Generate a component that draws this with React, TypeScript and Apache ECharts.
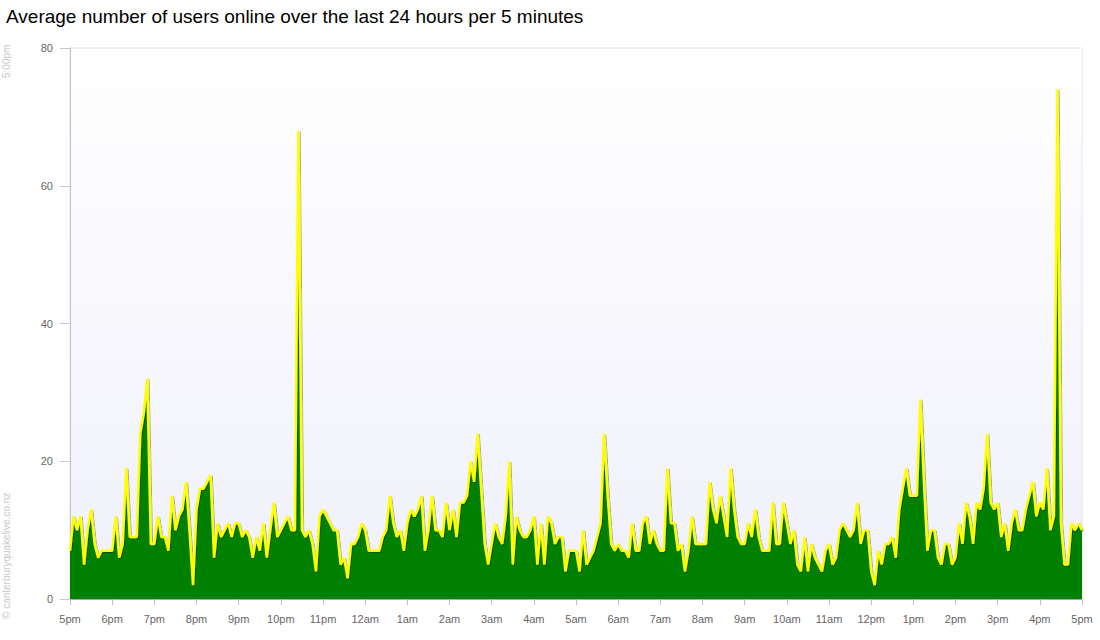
import { useEffect, useRef } from 'react';
import * as echarts from 'echarts';

// hour labels along the bottom, one per 60 minutes
const hourLabels = [
    '5pm', '6pm', '7pm', '8pm', '9pm', '10pm', '11pm', '12am', '1am', '2am', '3am', '4am',
    '5am', '6am', '7am', '8am', '9am', '10am', '11am', '12pm', '1pm', '2pm', '3pm', '4pm', '5pm'
];

const yTicks = [0, 20, 40, 60, 80];

// users online, one value per 5 minutes, starting at 5pm
const users5to9pm = [
    7, 12, 10, 12, 5, 10, 13, 8, 6, 7, 7, 7, 7, 12, 6, 8, 19, 9, 9, 9, 24, 27, 32, 8,
    8, 12, 9, 9, 7, 15, 10, 12, 13, 17, 10, 2, 13, 16, 16, 17, 18, 6, 11, 9, 10, 11, 9, 11
];
const users9pmTo1am = [
    11, 9, 10, 9, 6, 9, 7, 11, 6, 10, 14, 9, 10, 11, 12, 10, 10, 68, 10, 9, 10, 8, 4, 12,
    13, 12, 11, 10, 10, 5, 6, 3, 8, 8, 9, 11, 10, 7, 7, 7, 7, 9, 10, 15, 11, 9, 10, 7
];
const users1to5am = [
    11, 13, 12, 13, 15, 7, 10, 15, 10, 10, 9, 14, 10, 13, 9, 14, 14, 15, 20, 17, 24, 16, 8, 5,
    8, 11, 9, 8, 12, 20, 5, 12, 10, 9, 9, 10, 12, 5, 11, 5, 12, 11, 8, 9, 9, 4, 7, 7
];
const users5to9am = [
    7, 4, 10, 5, 6, 7, 9, 11, 24, 15, 8, 7, 8, 7, 7, 6, 11, 7, 7, 11, 12, 8, 10, 8,
    7, 7, 19, 11, 11, 7, 8, 4, 7, 12, 8, 8, 8, 8, 17, 13, 11, 15, 12, 9, 19, 13, 9, 8
];
const users9amTo1pm = [
    8, 11, 9, 13, 9, 7, 7, 7, 14, 8, 8, 14, 11, 8, 10, 5, 4, 9, 4, 8, 6, 5, 4, 7,
    8, 5, 6, 10, 11, 10, 9, 10, 14, 8, 10, 10, 4, 2, 7, 5, 8, 8, 9, 6, 13, 16, 19, 15
];
const users1to5pm = [
    15, 15, 29, 17, 7, 10, 10, 6, 5, 8, 8, 5, 6, 11, 8, 14, 12, 8, 14, 13, 16, 24, 14, 13,
    14, 9, 11, 7, 11, 13, 10, 10, 13, 15, 17, 12, 14, 13, 19, 10, 12, 74, 11, 5, 5, 11, 10, 11, 10
];

const users = [
    ...users5to9pm, ...users9pmTo1am, ...users1to5am,
    ...users5to9am, ...users9amTo1pm, ...users1to5pm
];

const FONT = '"Liberation Sans", Arial, sans-serif';

const App = () => {
    const chartRef = useRef<HTMLDivElement | null>(null);

    useEffect(() => {
        if (!chartRef.current) return;
        const myChart = echarts.init(chartRef.current, null, { renderer: 'svg' });

        const option = {
            animation: false,
            backgroundColor: '#ffffff',
            textStyle: { fontFamily: FONT },
            title: {
                text: 'Average number of users online over the last 24 hours per 5 minutes',
                left: 1,
                top: 2,
                textStyle: { fontFamily: FONT, fontSize: 19, fontWeight: 'normal', color: '#000000' }
            },
            grid: {
                left: 70,
                right: 18,
                top: 48,
                bottom: 41,
                show: true,
                borderWidth: 1,
                borderColor: '#e3e3ec',
                backgroundColor: new echarts.graphic.LinearGradient(0, 0, 0, 1, [
                    { offset: 0, color: '#ffffff' },
                    { offset: 1, color: '#f0f0fb' }
                ])
            },
            xAxis: {
                type: 'value',
                min: 0,
                max: 1440,
                interval: 60,
                axisLine: { show: true, lineStyle: { color: '#a8a8b8', width: 1 } },
                axisTick: { show: true, length: 6, lineStyle: { color: '#c0c0c8' } },
                axisLabel: {
                    color: '#666666',
                    fontSize: 11,
                    margin: 14,
                    formatter: (v: number) => hourLabels[Math.round(v / 60)] ?? ''
                },
                splitLine: { show: false }
            },
            yAxis: {
                type: 'value',
                min: yTicks[0],
                max: yTicks[yTicks.length - 1],
                interval: 20,
                offset: 2,
                axisLine: { show: true, lineStyle: { color: '#c0c0c8', width: 1 } },
                axisTick: { show: true, length: 10, lineStyle: { color: '#c8c8d0' } },
                axisLabel: { color: '#666666', fontSize: 11, margin: 15 },
                splitLine: { show: false }
            },
            graphic: [
                {
                    type: 'text',
                    x: 6,
                    y: 78,
                    rotation: Math.PI / 2,
                    style: {
                        text: '5:00pm',
                        fill: '#c8c8c8',
                        font: '10px ' + FONT,
                        textAlign: 'left',
                        textVerticalAlign: 'middle'
                    }
                },
                {
                    type: 'text',
                    x: 6,
                    y: 619,
                    rotation: Math.PI / 2,
                    style: {
                        text: '© canterburyquakelive.co.nz',
                        fill: '#c8c8c8',
                        font: '10px ' + FONT,
                        textAlign: 'left',
                        textVerticalAlign: 'middle'
                    }
                }
            ],
            series: [
                {
                    name: 'Users online',
                    type: 'line',
                    data: users.map((v, i) => [i * 5, v]),
                    symbol: 'none',
                    lineStyle: {
                        color: '#ffff00',
                        width: 2.5,
                        shadowColor: 'rgba(0,0,0,0.35)',
                        shadowBlur: 1,
                        shadowOffsetX: 1,
                        shadowOffsetY: 1
                    },
                    itemStyle: { color: '#ffff00' },
                    areaStyle: { color: '#008000', opacity: 1 }
                }
            ]
        };

        myChart.setOption(option);

        return () => {
            myChart.dispose();
        };
    }, []);

    return (
        <div
            ref={chartRef}
            style={{ position: 'fixed', left: 0, top: 0, width: '1100px', height: '640px' }}
        />
    );
};

export default App;
